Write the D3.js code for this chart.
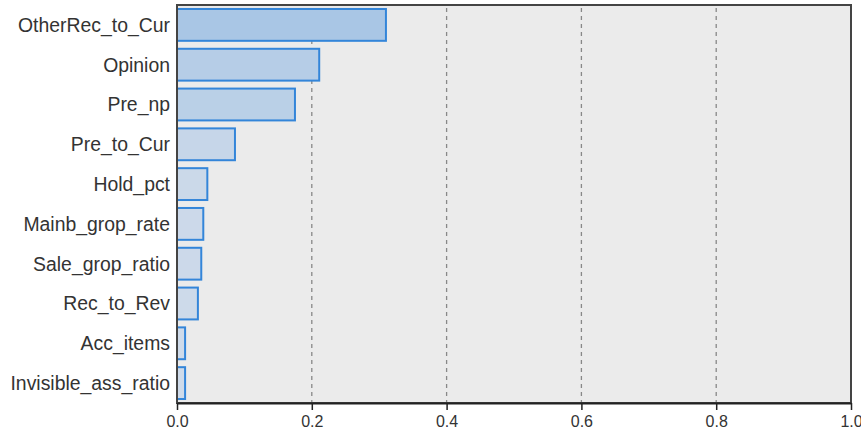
<!DOCTYPE html>
<html>
<head>
<meta charset="utf-8">
<script src="https://cdn.jsdelivr.net/npm/d3@7"></script>
<style>
  body { margin: 0; background: #fff; }
  svg { display: block; }
  text { font-family: "Liberation Sans", Arial, sans-serif; fill: #333; }
</style>
</head>
<body>
<div id="content"></div>
<script>
// predictor importance
let names = ['OtherRec_to_Cur', 'Opinion', 'Pre_np', 'Pre_to_Cur', 'Hold_pct',
  'Mainb_grop_rate', 'Sale_grop_ratio', 'Rec_to_Rev', 'Acc_items', 'Invisible_ass_ratio'];
let importance = [0.310, 0.211, 0.175, 0.086, 0.045, 0.039, 0.036, 0.031, 0.012, 0.012];
let ticks = [0, 0.2, 0.4, 0.6, 0.8, 1.0];

let width = 861, height = 444;
let margin = {top: 5, right: 10, bottom: 41, left: 177};

let svg = d3.select('#content').append('svg')
  .attr('width', width)
  .attr('height', height);

let x = d3.scaleLinear()
  .domain([0, 1])
  .range([margin.left, width - margin.right]);

let y = d3.scaleBand()
  .domain(names)
  .range([margin.top, height - margin.bottom])
  .paddingInner(0.2)
  .paddingOuter(0.1);

let colour = d3.scaleLinear()
  .domain([d3.min(importance), d3.max(importance)])
  .range(['#cfdbea', '#a9c6e5']);

// plot background
svg.append('rect')
  .attr('x', x(0))
  .attr('y', margin.top)
  .attr('width', x(1) - x(0))
  .attr('height', height - margin.bottom - margin.top)
  .attr('fill', '#ebebeb');

// grid
svg.append('g')
  .selectAll('line')
  .data(ticks.filter(d => d > 0 && d < 1))
  .join('line')
  .attr('x1', d => x(d)).attr('x2', d => x(d))
  .attr('y1', margin.top + 3).attr('y2', height - margin.bottom)
  .attr('stroke', '#888')
  .attr('stroke-width', 1.3)
  .attr('stroke-dasharray', '4,4');

// bars
svg.append('g')
  .selectAll('rect')
  .data(names)
  .join('rect')
  .attr('x', x(0))
  .attr('y', d => y(d))
  .attr('width', (d, i) => x(importance[i]) - x(0))
  .attr('height', y.bandwidth())
  .attr('fill', (d, i) => colour(importance[i]))
  .attr('stroke', '#3385d9')
  .attr('stroke-width', 2);

// frame
svg.append('rect')
  .attr('x', x(0))
  .attr('y', margin.top)
  .attr('width', x(1) - x(0))
  .attr('height', height - margin.bottom - margin.top)
  .attr('fill', 'none')
  .attr('stroke', '#444')
  .attr('stroke-width', 2);

// x axis
let xAxis = svg.append('g')
  .attr('transform', `translate(0,${height - margin.bottom})`)
  .call(d3.axisBottom(x).tickValues(ticks).tickFormat(d3.format('.1f')).tickSize(7).tickSizeOuter(0));
xAxis.select('.domain').attr('stroke', '#222').attr('stroke-width', 2);
xAxis.selectAll('.tick line').attr('stroke', '#222').attr('stroke-width', 1.5);
xAxis.selectAll('text')
  .attr('font-size', 16)
  .attr('dy', '0.85em')
  .attr('fill', '#333')
  .style('font-family', '"Liberation Sans", Arial, sans-serif');

// y labels
svg.append('g')
  .selectAll('text')
  .data(names)
  .join('text')
  .attr('x', x(0) - 7)
  .attr('y', d => y(d) + y.bandwidth() / 2)
  .attr('dy', '0.36em')
  .attr('text-anchor', 'end')
  .attr('font-size', 19.4)
  .text(d => d);
</script>
</body>
</html>
